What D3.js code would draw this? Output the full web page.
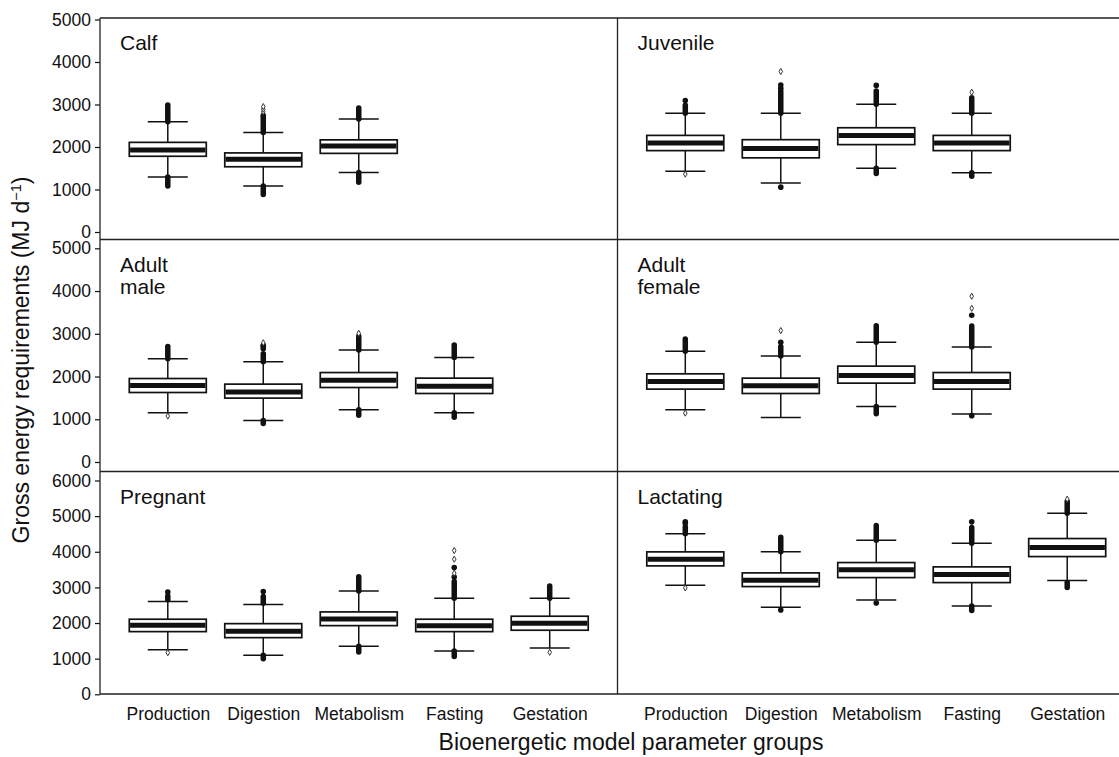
<!DOCTYPE html>
<html>
<head>
<meta charset="utf-8">
<script src="https://cdn.jsdelivr.net/npm/d3@7"></script>
<style>
  html, body { margin: 0; padding: 0; background: #fff; }
  svg { display: block; font-family: "Liberation Sans", Arial, Helvetica, sans-serif; }
</style>
</head>
<body>
<svg id="chart" width="1119" height="757"></svg>
<script>
// Parameter groups on the x axis of each panel
const groups = ["Production", "Digestion", "Metabolism", "Fasting", "Gestation"];

// Life stages, one panel each (row-major order)
const stages = ["Calf", "Juvenile", "Adult\nmale", "Adult\nfemale", "Pregnant", "Lactating"];

// Y tick values for each row of panels
const ticksRow1 = [0, 1000, 2000, 3000, 4000, 5000];
const ticksRow2 = [0, 1000, 2000, 3000, 4000, 5000];
const ticksRow3 = [0, 1000, 2000, 3000, 4000, 5000, 6000];

// Box statistics in MJ per day: whiskers (lo/hi), quartiles, median,
// dense outlier runs (up/down) and isolated outliers (dots filled, open hollow)
const calf = [
  { g: "Production", lo: 1292, q1: 1782, med: 1930, q3: 2109, hi: 2593, up: [2593, 2990], down: [1082, 1292], dots: [], open: [] },
  { g: "Digestion",  lo: 1082, q1: 1535, med: 1713, q3: 1861, hi: 2343, up: [2343, 2700], down: [885, 1082], dots: [2740], open: [2830, 2890, 2950] },
  { g: "Metabolism", lo: 1402, q1: 1850, med: 2025, q3: 2168, hi: 2660, up: [2660, 2920], down: [1170, 1402], dots: [], open: [] }
];
const juvenile = [
  { g: "Production", lo: 1432, q1: 1915, med: 2095, q3: 2273, hi: 2796, up: [2796, 2980], down: null, dots: [3095], open: [1362] },
  { g: "Digestion",  lo: 1152, q1: 1745, med: 1962, q3: 2172, hi: 2796, up: [2796, 3317], down: null, dots: [3380, 3457, 1055], open: [3777] },
  { g: "Metabolism", lo: 1502, q1: 2056, med: 2273, q3: 2453, hi: 3006, up: [3006, 3317], down: [1375, 1502], dots: [3450], open: [] },
  { g: "Fasting",    lo: 1394, q1: 1915, med: 2095, q3: 2273, hi: 2796, up: [2796, 3160], down: [1310, 1394], dots: [], open: [3290] }
];
const adultMale = [
  { g: "Production", lo: 1152, q1: 1626, med: 1789, q3: 1953, hi: 2413, up: [2413, 2700], down: null, dots: [], open: [1075] },
  { g: "Digestion",  lo: 972,  q1: 1495, med: 1635, q3: 1822, hi: 2343, up: [2343, 2530], down: [900, 972], dots: [2650, 2700, 2730], open: [2790] },
  { g: "Metabolism", lo: 1222, q1: 1743, med: 1915, q3: 2093, hi: 2623, up: [2623, 2940], down: [1095, 1222], dots: [], open: [3010] },
  { g: "Fasting",    lo: 1152, q1: 1603, med: 1775, q3: 1962, hi: 2443, up: [2443, 2740], down: [1045, 1152], dots: [], open: [] }
];
const adultFemale = [
  { g: "Production", lo: 1222, q1: 1705, med: 1883, q3: 2063, hi: 2593, up: [2593, 2880], down: null, dots: [], open: [1145] },
  { g: "Digestion",  lo: 1042, q1: 1603, med: 1782, q3: 1962, hi: 2483, up: [2483, 2700], down: null, dots: [2800], open: [3074] },
  { g: "Metabolism", lo: 1299, q1: 1845, med: 2023, q3: 2243, hi: 2803, up: [2803, 3190], down: [1130, 1299], dots: [], open: [] },
  { g: "Fasting",    lo: 1121, q1: 1705, med: 1883, q3: 2093, hi: 2693, up: [2693, 3184], down: null, dots: [3434, 1085], open: [3597, 3878] }
];
const pregnant = [
  { g: "Production", lo: 1253, q1: 1759, med: 1938, q3: 2107, hi: 2601, up: [2650, 2760], down: null, dots: [2870], open: [1169] },
  { g: "Digestion",  lo: 1096, q1: 1590, med: 1770, q3: 1983, hi: 2517, up: [2556, 2742], down: [995, 1096], dots: [2882], open: [] },
  { g: "Metabolism", lo: 1350, q1: 1927, med: 2110, q3: 2312, hi: 2902, up: [2902, 3300], down: [1185, 1350], dots: [], open: [] },
  { g: "Fasting",    lo: 1216, q1: 1759, med: 1927, q3: 2107, hi: 2697, up: [2697, 3163], down: [1060, 1216], dots: [3290, 3556], open: [3400, 3792, 4034] },
  { g: "Gestation",  lo: 1301, q1: 1798, med: 1994, q3: 2191, hi: 2697, up: [2697, 3040], down: null, dots: [], open: [1180] }
];
const lactating = [
  { g: "Production", lo: 3062, q1: 3604, med: 3792, q3: 3997, hi: 4503, up: [4503, 4700], down: null, dots: [4800, 4840], open: [2986] },
  { g: "Digestion",  lo: 2444, q1: 3023, med: 3202, q3: 3407, hi: 3997, up: [3997, 4410], down: null, dots: [2365], open: [] },
  { g: "Metabolism", lo: 2649, q1: 3275, med: 3492, q3: 3697, hi: 4326, up: [4326, 4736], down: null, dots: [2560], open: [] },
  { g: "Fasting",    lo: 2480, q1: 3135, med: 3360, q3: 3576, hi: 4242, up: [4242, 4680], down: [2355, 2480], dots: [4840], open: [] },
  { g: "Gestation",  lo: 3191, q1: 3865, med: 4118, q3: 4371, hi: 5084, up: [5084, 5410], down: [2995, 3140], dots: [], open: [5477] }
];

const panelData = [calf, juvenile, adultMale, adultFemale, pregnant, lactating];

// ---- layout ----
const svg = d3.select("#chart");
const xLeft = 100, xMid = 617.5, xRight = 1135;
const rows = [
  { top: 18,    bottom: 239.5, zeroY: 232,   maxY: 19.5,  ticks: ticksRow1 },
  { top: 239.5, bottom: 471.5, zeroY: 462,   maxY: 248.3, ticks: ticksRow2 },
  { top: 471.5, bottom: 694,   zeroY: 694.3, maxY: 480.5, ticks: ticksRow3 }
];
const cols = [[xLeft, xMid], [xMid, xRight]];
const ink = "#111";

rows.forEach(r => {
  r.y = d3.scaleLinear()
    .domain([0, d3.max(r.ticks)])
    .range([r.zeroY, r.maxY]);
});

const xScales = cols.map(c => d3.scalePoint().domain(groups).range(c).padding(0.71));

const boxW = 77, capW = 40;

// panels
panelData.forEach((boxes, i) => {
  const row = rows[Math.floor(i / 2)];
  const x = xScales[i % 2];
  const y = row.y;
  const g = svg.append("g");

  const b = g.selectAll("g.box").data(boxes).join("g").attr("class", "box")
    .attr("transform", d => `translate(${x(d.g)},0)`);

  // whisker stems
  b.append("line").attr("x1", 0).attr("x2", 0)
    .attr("y1", d => y(d.q3)).attr("y2", d => y(d.hi))
    .attr("stroke", ink).attr("stroke-width", 1.5);
  b.append("line").attr("x1", 0).attr("x2", 0)
    .attr("y1", d => y(d.q1)).attr("y2", d => y(d.lo))
    .attr("stroke", ink).attr("stroke-width", 1.5);

  // dense outlier runs
  b.filter(d => d.up).append("line").attr("x1", 0).attr("x2", 0)
    .attr("y1", d => y(d.up[0])).attr("y2", d => y(d.up[1]))
    .attr("stroke", ink).attr("stroke-width", 5.5).attr("stroke-linecap", "round");
  b.filter(d => d.down).append("line").attr("x1", 0).attr("x2", 0)
    .attr("y1", d => y(d.down[0])).attr("y2", d => y(d.down[1]))
    .attr("stroke", ink).attr("stroke-width", 5.5).attr("stroke-linecap", "round");

  // whisker caps
  b.append("line").attr("x1", -capW / 2).attr("x2", capW / 2)
    .attr("y1", d => y(d.hi)).attr("y2", d => y(d.hi))
    .attr("stroke", ink).attr("stroke-width", 1.5);
  b.append("line").attr("x1", -capW / 2).attr("x2", capW / 2)
    .attr("y1", d => y(d.lo)).attr("y2", d => y(d.lo))
    .attr("stroke", ink).attr("stroke-width", 1.5);

  // isolated outliers
  b.selectAll("circle.dot").data(d => d.dots).join("circle").attr("class", "dot")
    .attr("cx", 0).attr("cy", v => y(v)).attr("r", 2.8).attr("fill", ink);
  b.selectAll("path.open").data(d => d.open).join("path").attr("class", "open")
    .attr("d", d3.symbol(d3.symbolDiamond, 11)())
    .attr("transform", v => `translate(0,${y(v)})`)
    .attr("fill", "#fff").attr("stroke", "#333").attr("stroke-width", 1);

  // box
  b.append("rect")
    .attr("x", -boxW / 2).attr("width", boxW)
    .attr("y", d => y(d.q3)).attr("height", d => y(d.q1) - y(d.q3))
    .attr("fill", "#fff").attr("stroke", ink).attr("stroke-width", 1.7);
  // median
  b.append("line").attr("x1", -boxW / 2 + 0.8).attr("x2", boxW / 2 - 0.8)
    .attr("y1", d => y(d.med)).attr("y2", d => y(d.med))
    .attr("stroke", ink).attr("stroke-width", 5);

  // panel title
  const lines = stages[i].split("\n");
  const t = g.append("text")
    .attr("x", cols[i % 2][0] + 20).attr("y", row.top + 32)
    .attr("font-size", 21).attr("fill", ink);
  lines.forEach((s, k) => t.append("tspan")
    .attr("x", cols[i % 2][0] + 20).attr("dy", k === 0 ? 0 : 22.5).text(s));
});

// y axes (left side only)
rows.forEach(r => {
  const ax = svg.append("g").attr("transform", `translate(${xLeft},0)`)
    .call(d3.axisLeft(r.y).tickValues(r.ticks).tickSize(5).tickPadding(4).tickFormat(d3.format("d")));
  ax.select(".domain").remove();
  ax.selectAll(".tick line").attr("stroke", ink).attr("stroke-width", 1.2);
  ax.selectAll(".tick text").attr("font-size", 17.5).attr("fill", ink)
    .attr("font-family", "'Liberation Sans', Arial, sans-serif");
});

// frame lines
const frame = svg.append("g").attr("stroke", "#222").attr("stroke-width", 1.3);
frame.append("line").attr("x1", xLeft).attr("x2", xRight).attr("y1", rows[0].top).attr("y2", rows[0].top);
frame.append("line").attr("x1", xLeft).attr("x2", xRight).attr("y1", rows[1].top).attr("y2", rows[1].top);
frame.append("line").attr("x1", xLeft).attr("x2", xRight).attr("y1", rows[2].top).attr("y2", rows[2].top);
frame.append("line").attr("x1", xLeft).attr("x2", xRight).attr("y1", rows[2].bottom).attr("y2", rows[2].bottom);
frame.append("line").attr("x1", xLeft).attr("x2", xLeft).attr("y1", rows[0].top).attr("y2", rows[2].bottom);
frame.append("line").attr("x1", xMid).attr("x2", xMid).attr("y1", rows[0].top).attr("y2", rows[2].bottom);

// x tick labels under both bottom panels
xScales.forEach(x => {
  const ax = svg.append("g").attr("transform", "translate(0,720)")
    .call(d3.axisBottom(x).tickSize(0));
  ax.select(".domain").remove();
  ax.selectAll(".tick text").attr("y", 0).attr("dy", 0)
    .attr("font-size", 17.5).attr("fill", ink)
    .attr("font-family", "'Liberation Sans', Arial, sans-serif");
});

// axis titles
svg.append("text")
  .attr("x", 631).attr("y", 750).attr("text-anchor", "middle")
  .attr("font-size", 23).attr("fill", ink)
  .text("Bioenergetic model parameter groups");

const yt = svg.append("text")
  .attr("transform", "translate(29,360) rotate(-90)")
  .attr("text-anchor", "middle").attr("font-size", 23).attr("fill", ink);
yt.append("tspan").text("Gross energy requirements (MJ d");
yt.append("tspan").attr("font-size", 14.5).attr("dy", -8.5).text("\u22121");
yt.append("tspan").attr("dy", 8.5).text(")");
</script>
</body>
</html>
